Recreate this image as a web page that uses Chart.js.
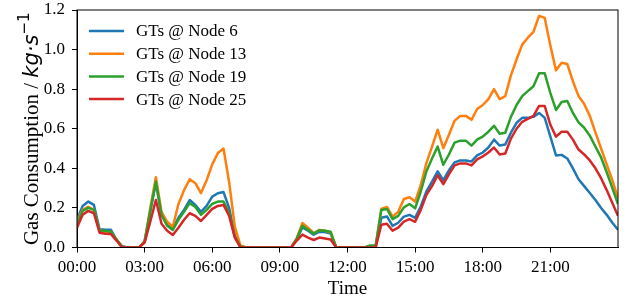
<!DOCTYPE html>
<html lang="en">
<head>
  <meta charset="UTF-8" />
  <title>Gas Consumption of GTs</title>
  <style>
    html, body { margin: 0; padding: 0; background: #fff; }
    canvas { display: block; }
  </style>
</head>
<body>
  <canvas id="gasChart" width="633" height="303"></canvas>

  <script src="https://cdn.jsdelivr.net/npm/chart.js"></script>
  <script>
    // 15-minute steps, 00:00 .. 24:00 (hours)
    const hours = [];
    for (let i = 0; i <= 96; i++) hours.push(i / 4);

    const tickLabels = ['00:00', '03:00', '06:00', '09:00', '12:00', '15:00', '18:00', '21:00'];
    const seriesNames = ['GTs @ Node 6', 'GTs @ Node 13', 'GTs @ Node 19', 'GTs @ Node 25'];

    const node6 = [
      0.14, 0.21, 0.232, 0.215, 0.092, 0.09, 0.09, 0.04, 0.005, 0, 0, 0,
      0.03, 0.18, 0.33, 0.165, 0.115, 0.095, 0.15, 0.19, 0.24, 0.215, 0.18, 0.21,
      0.257, 0.274, 0.28, 0.2, 0.06, 0.005, 0, 0, 0, 0, 0, 0,
      0, 0, 0, 0.04, 0.102, 0.085, 0.065, 0.08, 0.078, 0.07, 0, 0,
      0, 0, 0, 0, 0.005, 0.005, 0.15, 0.157, 0.109, 0.125, 0.156, 0.165,
      0.15, 0.207, 0.283, 0.333, 0.385, 0.34, 0.39, 0.43, 0.44, 0.44, 0.435, 0.465,
      0.48, 0.505, 0.545, 0.515, 0.52, 0.58, 0.63, 0.655, 0.655, 0.66, 0.68, 0.655,
      0.56, 0.465, 0.468, 0.45, 0.40, 0.345, 0.31, 0.275, 0.24, 0.2, 0.165, 0.125,
      0.09
    ];
    const node13 = [
      0.13, 0.19, 0.205, 0.19, 0.085, 0.08, 0.08, 0.04, 0.005, 0, 0, 0,
      0.03, 0.2, 0.355, 0.18, 0.13, 0.105, 0.22, 0.29, 0.345, 0.325, 0.275, 0.34,
      0.42, 0.477, 0.50, 0.33, 0.105, 0.01, 0, 0, 0, 0, 0, 0,
      0, 0, 0, 0.047, 0.124, 0.10, 0.072, 0.089, 0.085, 0.075, 0, 0,
      0, 0, 0, 0, 0.005, 0.005, 0.195, 0.205, 0.156, 0.18, 0.245, 0.254,
      0.232, 0.316, 0.426, 0.51, 0.595, 0.502, 0.57, 0.64, 0.665, 0.665, 0.645, 0.70,
      0.72, 0.75, 0.80, 0.75, 0.765, 0.87, 0.95, 1.025, 1.06, 1.09, 1.17, 1.16,
      1.02, 0.895, 0.933, 0.927, 0.84, 0.765, 0.725, 0.665, 0.58, 0.50, 0.42, 0.34,
      0.25
    ];
    const node19 = [
      0.12, 0.185, 0.20, 0.19, 0.085, 0.085, 0.08, 0.04, 0.005, 0, 0, 0,
      0.03, 0.185, 0.333, 0.165, 0.11, 0.089, 0.14, 0.18, 0.224, 0.205, 0.165, 0.19,
      0.22, 0.232, 0.232, 0.175, 0.055, 0.005, 0, 0, 0, 0, 0, 0,
      0, 0, 0, 0.045, 0.11, 0.09, 0.07, 0.087, 0.085, 0.08, 0, 0,
      0, 0, 0, 0, 0.01, 0.012, 0.19, 0.195, 0.143, 0.16, 0.203, 0.22,
      0.198, 0.283, 0.384, 0.45, 0.51, 0.418, 0.47, 0.53, 0.54, 0.54, 0.515, 0.545,
      0.56, 0.585, 0.615, 0.575, 0.58, 0.66, 0.72, 0.765, 0.79, 0.815, 0.88, 0.88,
      0.78, 0.695, 0.735, 0.74, 0.68, 0.632, 0.605, 0.565, 0.51, 0.455, 0.38, 0.30,
      0.22
    ];
    const node25 = [
      0.10, 0.165, 0.185, 0.173, 0.075, 0.07, 0.068, 0.035, 0, 0, 0, 0,
      0.025, 0.13, 0.24, 0.12, 0.085, 0.063, 0.10, 0.14, 0.173, 0.16, 0.134, 0.165,
      0.195, 0.21, 0.215, 0.16, 0.05, 0, 0, 0, 0, 0, 0, 0,
      0, 0, 0, 0.035, 0.065, 0.05, 0.038, 0.05, 0.045, 0.04, 0, 0,
      0, 0, 0, 0, 0, 0, 0.115, 0.12, 0.085, 0.10, 0.131, 0.143,
      0.13, 0.19, 0.266, 0.31, 0.365, 0.32, 0.37, 0.415, 0.425, 0.425, 0.415, 0.445,
      0.46, 0.48, 0.505, 0.47, 0.475, 0.55, 0.60, 0.635, 0.65, 0.665, 0.715, 0.715,
      0.62, 0.56, 0.585, 0.585, 0.545, 0.495, 0.47, 0.44, 0.40, 0.35, 0.29, 0.225,
      0.16
    ];

    const seriesValues = [node6, node13, node19, node25];
    const colors = ['#1f77b4', '#ff7f0e', '#2ca02c', '#d62728'];

    const serif = '"Liberation Serif", "Times New Roman", serif';

    // box around the plot, legend in the upper left, y-axis title with math part
    const decorations = {
      id: 'decorations',
      afterDatasetsDraw(chart) {
        const { ctx, chartArea: a } = chart;
        ctx.save();
        ctx.strokeStyle = '#000';
        ctx.lineWidth = 1;
        ctx.strokeRect(a.left, a.top, a.right - a.left, a.bottom - a.top);

        // legend
        ctx.font = '17px ' + serif;
        ctx.textBaseline = 'middle';
        chart.data.datasets.forEach((ds, k) => {
          const y = a.top + 21 + k * 22.7;
          ctx.strokeStyle = ds.borderColor;
          ctx.lineWidth = 2.5;
          ctx.beginPath();
          ctx.moveTo(a.left + 12, y);
          ctx.lineTo(a.left + 47, y);
          ctx.stroke();
          ctx.fillStyle = '#000';
          ctx.fillText(ds.label, a.left + 59, y + 1);
        });

        // y title: "Gas Consumption / kg·s⁻¹"
        const partA = 'Gas Consumption / ';
        const partB = 'kg·s';
        const partC = '\u22121';
        const fA = '21px ' + serif;
        const fB = 'italic 21px "DejaVu Sans"';
        const fC = '15px "DejaVu Sans"';
        ctx.font = fA; const wA = ctx.measureText(partA).width;
        ctx.font = fB; const wB = ctx.measureText(partB).width;
        ctx.font = fC; const wC = ctx.measureText(partC).width;
        const total = wA + wB + wC;
        ctx.translate(38, (a.top + a.bottom) / 2);
        ctx.rotate(-Math.PI / 2);
        ctx.fillStyle = '#000';
        ctx.textBaseline = 'alphabetic';
        let x = -total / 2;
        ctx.font = fA; ctx.fillText(partA, x, 0); x += wA;
        ctx.font = fB; ctx.fillText(partB, x, 0); x += wB;
        ctx.font = fC; ctx.fillText(partC, x, -9);
        ctx.restore();
      }
    };

    const ctx = document.getElementById('gasChart').getContext('2d');
    new Chart(ctx, {
      type: 'line',
      data: {
        datasets: seriesValues.map((vals, k) => ({
          label: seriesNames[k],
          data: vals.map((v, i) => ({ x: hours[i], y: v })),
          borderColor: colors[k],
          backgroundColor: colors[k],
          borderWidth: 2.5,
          pointRadius: 0,
          tension: 0,
          borderJoinStyle: 'round',
          order: 3 - k
        }))
      },
      options: {
        responsive: false,
        animation: false,
        devicePixelRatio: 1,
        layout: { padding: { left: 0, right: 15, top: 10, bottom: 0 } },
        plugins: {
          legend: { display: false },
          tooltip: { enabled: false }
        },
        scales: {
          x: {
            type: 'linear',
            min: 0,
            max: 24,
            afterBuildTicks: s => { s.ticks = s.ticks.filter(t => t.value < 24); },
            afterFit: s => { s.height = 55.5; s.paddingLeft = 0; s.paddingRight = 0; },
            ticks: {
              stepSize: 3,
              color: '#000',
              font: { family: serif, size: 17 },
              padding: 5,
              maxRotation: 0,
              callback: v => tickLabels[v / 3]
            },
            grid: { drawOnChartArea: false, drawTicks: true, tickLength: 5, color: '#000' },
            border: { display: true, color: '#000', width: 1 },
            title: {
              display: true,
              text: 'Time',
              color: '#000',
              font: { family: serif, size: 19 },
              padding: { top: 0, bottom: 3 }
            }
          },
          y: {
            min: 0,
            max: 1.2,
            afterFit: s => { s.width = 77; s.paddingTop = 0; s.paddingBottom = 0; },
            ticks: {
              stepSize: 0.2,
              color: '#000',
              font: { family: serif, size: 17 },
              padding: 7,
              callback: v => v.toFixed(1)
            },
            grid: { drawOnChartArea: false, drawTicks: true, tickLength: 5, color: '#000' },
            border: { display: true, color: '#000', width: 1 }
          }
        }
      },
      plugins: [decorations]
    });
  </script>
</body>
</html>
